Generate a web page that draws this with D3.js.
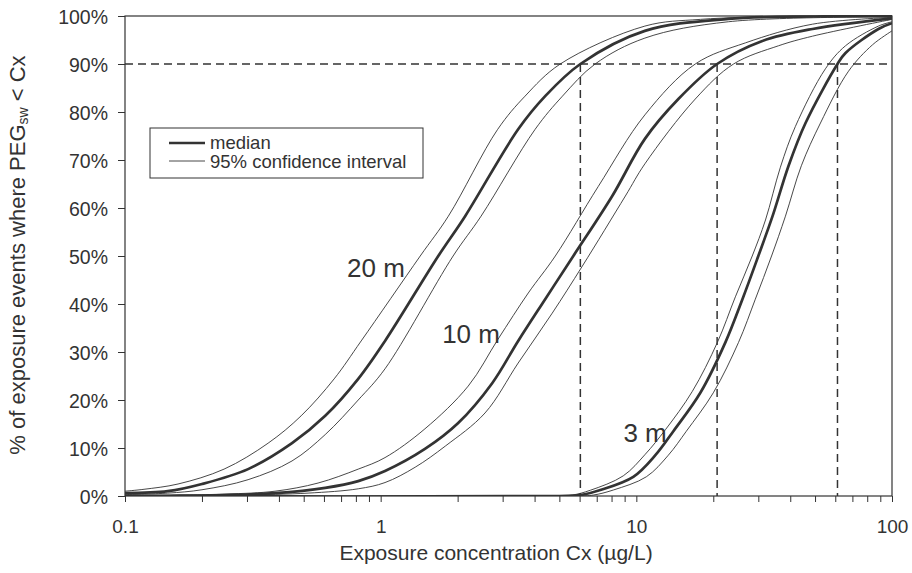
<!DOCTYPE html>
<html><head><meta charset="utf-8">
<script src="https://cdn.jsdelivr.net/npm/d3@7/dist/d3.min.js"></script>
<style>
body{margin:0;background:#fff;}
svg{display:block;font-family:"Liberation Sans",Arial,sans-serif;}
</style></head>
<body><svg id="chart" width="912" height="573"></svg>
<script>
// ---- data: [concentration (µg/L), cumulative %] ----
const m20Median = [[0.1,0.6],[0.147,1.0],[0.2,2.5],[0.303,5.6],[0.45,11.0],[0.607,16.7],[0.817,24.4],[1.04,32.3],[1.68,50],[2.14,58.3],[3.45,76.4],[4.4,83.3],[6.04,90],[10.8,96.9],[22.9,99.4],[50,99.9],[100,100]];
const m20Upper  = [[0.1,1.0],[0.1187,1.4],[0.1612,2.5],[0.2441,5.6],[0.3628,11.0],[0.4885,16.7],[0.6577,24.4],[0.8389,32.3],[1.428,50],[1.84,58.3],[2.87,76.4],[3.67,83.3],[5.04,90],[10.8,97.9],[17.8,99.3],[40,99.9],[100,100]];
const m20Lower  = [[0.1,0.3],[0.147,0.6],[0.2,1.3],[0.303,3.4],[0.45,7.3],[0.607,12.8],[0.817,20.0],[1.04,26.5],[1.92,50],[2.47,58.3],[4.02,76.4],[5.14,83.3],[6.9,90],[10.8,95.4],[22.9,98.8],[100,99.8]];

const m10Median = [[0.1,0],[0.15,0.05],[0.246,0.2],[0.386,0.6],[0.607,1.7],[0.817,3.1],[1.04,5.2],[1.49,9.8],[2.01,15.2],[2.73,23.5],[3.45,32.3],[4.4,41.0],[5.67,50],[8.05,62.5],[10.8,74.4],[14.6,82.7],[20.7,90],[31.1,94.8],[48.9,97.3],[100,99.5]];
const m10Upper  = [[0.1,0],[0.246,0.4],[0.386,1.0],[0.569,2.7],[0.817,5.6],[1.04,8.0],[1.49,14.0],[2.2,22.9],[2.88,32.7],[3.78,42.3],[4.82,50],[7.1,64.5],[10.8,79.4],[17.0,90],[26.7,94.4],[48.9,98.3],[100,99.7]];
const m10Lower  = [[0.1,0],[0.281,0.2],[0.52,0.6],[0.817,1.5],[1.04,2.8],[1.365,6.0],[1.79,10.4],[2.56,17.3],[3.45,27.7],[4.69,38.1],[6.15,47.9],[9.06,62.5],[10.8,69.2],[17.0,82.7],[24.0,90],[36.0,93.8],[48.9,95.8],[100,99.3]];

const m3Median  = [[0.1,0],[5.0,0],[6.04,0.2],[7.23,1.25],[9.73,4.0],[11.87,8.5],[13.96,13.5],[17.8,21.5],[22.3,32],[26.0,41],[30.0,50],[34.1,58.3],[39.4,68.8],[45.9,77.7],[61.2,90],[65.8,92.3],[88.5,97.3],[100,98.5]];
const m3Upper   = [[0.1,0],[4.8,0],[5.62,0.2],[6.61,1.2],[8.89,4.2],[10.84,8.7],[12.99,13.8],[16.56,21.8],[20.75,32],[24.4,41.5],[28.4,50],[32.0,57.5],[36.6,68.5],[41.9,77],[54.9,89.0],[65.8,93.8],[88.5,97.9],[100,98.8]];
const m3Lower   = [[0.1,0],[5.8,0],[6.79,0.2],[8.13,1.25],[10.94,4.0],[13.34,8.5],[15.69,13.5],[20.0,21.5],[25.1,32],[29.2,41],[33.8,50],[38.3,58.3],[44.2,68.8],[52.5,77.7],[67.6,88.5],[83.9,94.0],[100,96.9]];

const medianSeries = [m20Median, m10Median, m3Median];
const ciSeries = [m20Upper, m20Lower, m10Upper, m10Lower, m3Upper, m3Lower];

const curveLabels = [{text:"20 m", c:0.739, p:45.6},{text:"10 m", c:1.74, p:31.9},{text:"3 m", c:8.9, p:11.25}];
const thresholdP = 90;
const thresholdC = [6.04, 20.7, 61.2];

const xTickValues = [0.1, 1, 10, 100];
const xTickLabels = ["0.1", "1", "10", "100"];
const yTickValues = [0,10,20,30,40,50,60,70,80,90,100];

// ---- layout ----
const svg = d3.select("#chart");
const L = 125, R = 892, T = 16, B = 496;
const ink = "#333";

const x = d3.scaleLog().domain([0.1, 100]).range([L, R]);
const y = d3.scaleLinear().domain([0, 100]).range([B, T]);

svg.append("defs").append("clipPath").attr("id","clip")
  .append("rect").attr("x",L).attr("y",T-1).attr("width",R-L).attr("height",B-T+1);

// minor ticks on log axis
const minorTicks = [];
for (let d = 0.1; d < 100; d *= 10) for (let k = 1; k < 10; k++) minorTicks.push(+(d*k).toPrecision(3));
minorTicks.push(100);

const xAxis = d3.axisBottom(x).tickValues(minorTicks).tickSize(6)
  .tickFormat(v => { const i = xTickValues.findIndex(t => Math.abs(t - v) < 1e-9); return i >= 0 ? xTickLabels[i] : ""; });
const gx = svg.append("g").attr("transform", `translate(0,${B})`).call(xAxis);
gx.select(".domain").remove();
gx.selectAll("line").attr("stroke", ink).attr("stroke-width", 1);
gx.selectAll("text").attr("fill", ink).attr("font-size", 19).attr("y", 0).attr("dy", "37px");

const yAxis = d3.axisLeft(y).tickValues(yTickValues).tickSize(7).tickFormat(d => d + "%");
const gy = svg.append("g").attr("transform", `translate(${L},0)`).call(yAxis);
gy.select(".domain").remove();
gy.selectAll("line").attr("stroke", ink).attr("stroke-width", 1);
gy.selectAll("text").attr("fill", ink).attr("font-size", 19.5).attr("x", -17).attr("dy", "0.36em");

// frame
svg.append("rect").attr("x", L).attr("y", T).attr("width", R-L).attr("height", B-T)
  .attr("fill", "none").attr("stroke", ink).attr("stroke-width", 1.2);

// dashed threshold lines
svg.append("line").attr("x1", L).attr("x2", x(97)).attr("y1", y(thresholdP)).attr("y2", y(thresholdP))
  .attr("stroke", ink).attr("stroke-width", 1.5).attr("stroke-dasharray", "8,5");
svg.selectAll("line.vthr").data(thresholdC).enter().append("line").attr("class","vthr")
  .attr("x1", d => x(d)).attr("x2", d => x(d)).attr("y1", y(thresholdP)).attr("y2", B)
  .attr("stroke", ink).attr("stroke-width", 1.5).attr("stroke-dasharray", "8,5");

// curves
const line = d3.line().x(d => x(d[0])).y(d => y(d[1])).curve(d3.curveCatmullRom.alpha(0.5));
const gc = svg.append("g").attr("clip-path", "url(#clip)");
gc.selectAll("path.ci").data(ciSeries).enter().append("path").attr("class","ci")
  .attr("d", line).attr("fill","none").attr("stroke", ink).attr("stroke-width", 0.9);
gc.selectAll("path.med").data(medianSeries).enter().append("path").attr("class","med")
  .attr("d", line).attr("fill","none").attr("stroke", ink).attr("stroke-width", 2.7);

// curve labels
svg.selectAll("text.cl").data(curveLabels).enter().append("text").attr("class","cl")
  .attr("x", d => x(d.c)).attr("y", d => y(d.p))
  .attr("fill", ink).attr("font-size", 26).text(d => d.text);

// legend
const lg = svg.append("g");
lg.append("rect").attr("x",150).attr("y",128).attr("width",273).attr("height",50)
  .attr("fill","#fff").attr("stroke", ink).attr("stroke-width",1);
lg.append("line").attr("x1",169).attr("x2",205).attr("y1",143).attr("y2",143).attr("stroke",ink).attr("stroke-width",2.7);
lg.append("line").attr("x1",169).attr("x2",205).attr("y1",161).attr("y2",161).attr("stroke",ink).attr("stroke-width",0.9);
lg.append("text").attr("x",210).attr("y",149).attr("fill",ink).attr("font-size",18.5).text("median");
lg.append("text").attr("x",210).attr("y",168).attr("fill",ink).attr("font-size",18.5).text("95% confidence interval");

// axis titles
svg.append("text").attr("x", 496).attr("y", 560).attr("text-anchor","middle")
  .attr("fill", ink).attr("font-size", 21).text("Exposure concentration Cx (µg/L)");
const yt = svg.append("text").attr("transform","translate(25,255) rotate(-90)").attr("text-anchor","middle")
  .attr("fill", ink).attr("font-size", 22);
yt.append("tspan").text("% of exposure events where PEG");
yt.append("tspan").attr("font-size", 14).attr("dy", 3).text("sw");
yt.append("tspan").attr("dy", -3).text("  < Cx");
</script></body></html>
